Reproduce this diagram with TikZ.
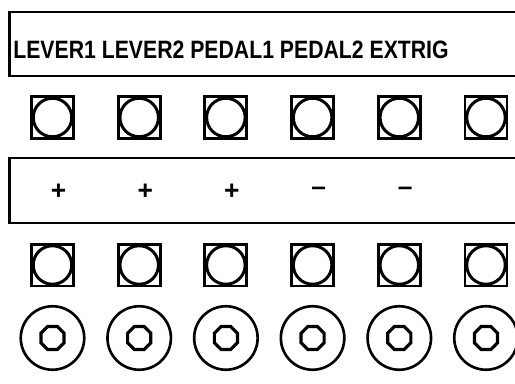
\documentclass[tikz,border=0pt]{standalone}
\usepackage{fontspec}
\setmainfont{Liberation Sans}
\usetikzlibrary{shapes.geometric}

\tikzset{
  panel/.style={draw, line width=1.2pt},
  keybtn/.style={draw, line width=1.7pt, minimum size=0.84cm, inner sep=0pt,
    path picture={\draw[line width=1.7pt] (path picture bounding box.center) circle (0.385cm);}},
  jack/.style={draw, circle, line width=1.5pt, minimum size=1.27cm, inner sep=0pt},
  jackhole/.style={draw, regular polygon, regular polygon sides=8, line width=1.8pt,
    minimum size=0.5cm, inner sep=0pt},
  sign/.style={font=\fontsize{15}{15}\selectfont\bfseries, inner sep=0pt}
}

\begin{document}
\begin{tikzpicture}[x=0.02cm, y=-0.02cm]
  \clip (0,0) rectangle (515,383);
  \fill[white] (0,0) rectangle (515,383);
  % name strip and sign strip
  \draw[panel] (9.5,12) rectangle (530,76);
  \draw[panel] (9.5,158) rectangle (530,223);
  \node[anchor=base west, inner sep=0pt, font=\fontsize{14.3}{15}\selectfont\bfseries] (names) at (13,58)
    {\scalebox{0.845}[1]{LEVER1 LEVER2 PEDAL1 PEDAL2 EXTRIG}};
  % keys and jacks
  \foreach \i in {1,...,6} {
    \pgfmathsetmacro{\cx}{52.5+86.7*(\i-1)}
    \node[keybtn] (upkey\i) at (\cx,117.5) {};
    \node[keybtn] (lowkey\i) at (\cx,265) {};
    \node[jack] (jack\i) at (\cx,338) {};
    \node[jackhole] (hole\i) at (jack\i) {};
  }
  % polarity
  \foreach \s [count=\i] in {+,+,+,\textendash,\textendash} {
    \pgfmathsetmacro{\cx}{58.5+86.7*(\i-1)}
    \node[sign] (sign\i) at (\cx,191.5) {\s};
  }
\end{tikzpicture}
\end{document}
